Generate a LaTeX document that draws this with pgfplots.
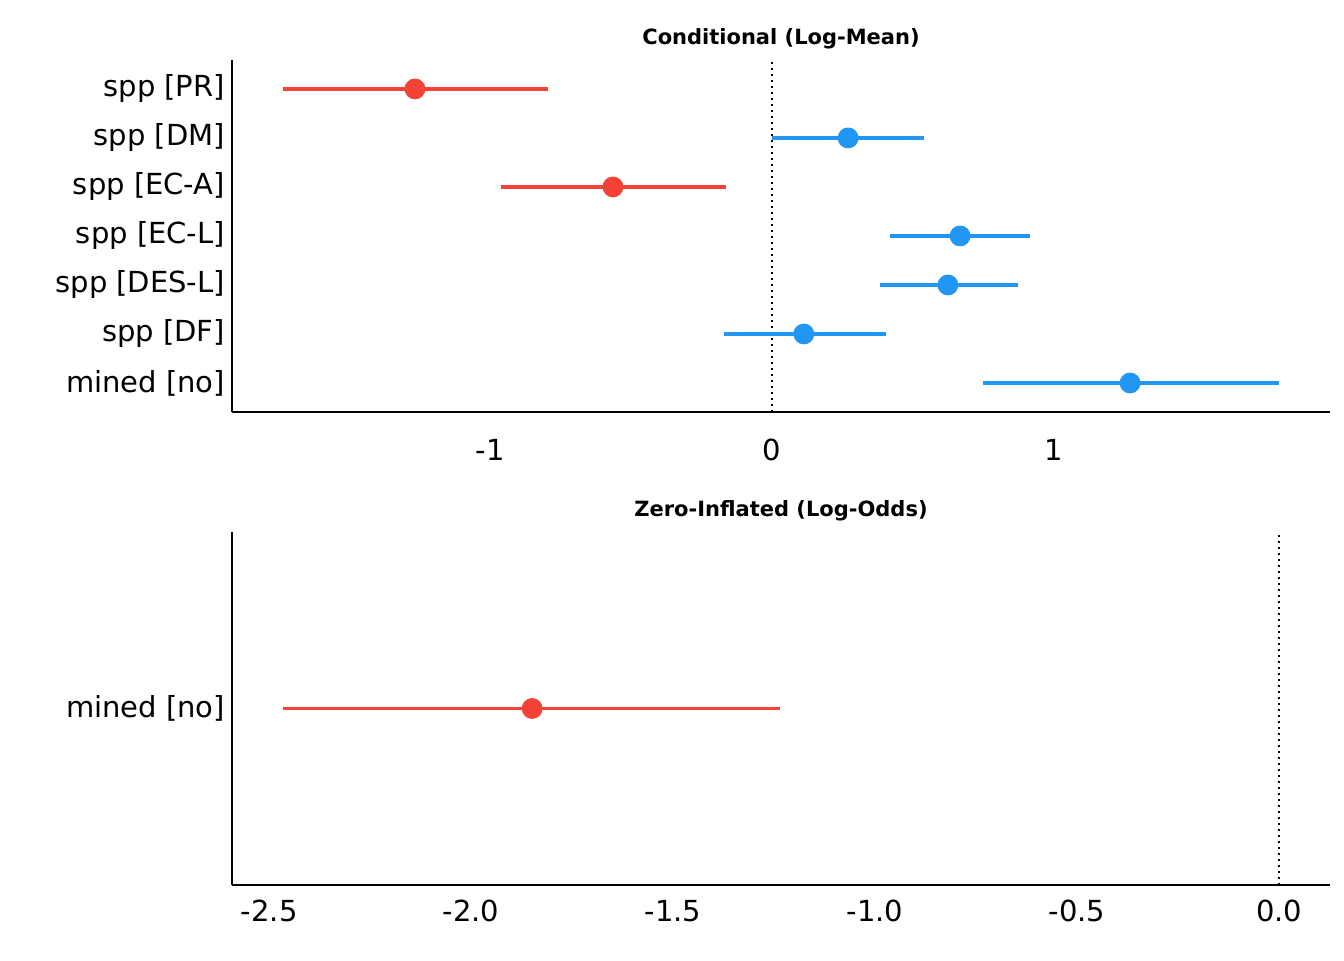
\documentclass[border=0pt]{standalone}
\usepackage{pgfplots}
\pgfplotsset{compat=1.18}
\usepackage{fontspec}
\setmainfont{DejaVu Sans}
\definecolor{cred}{HTML}{F44336}
\definecolor{cblue}{HTML}{2196F3}
\pgfplotsset{
  myax/.style={scale only axis, width=549pt, axis x line*=bottom, axis y line*=left,
    axis line style={line width=1pt}, major tick length=0pt,
    tick label style={font=\fontsize{14.5}{16}\selectfont},
    /pgf/number format/assume math mode=true,
    title style={font=\bfseries\fontsize{10.5}{12}\selectfont, yshift=-4pt},
    anchor=south west, clip=false},
  ci/.style={line width=1.6pt, mark=none},
  pt/.style={only marks, mark=*, mark size=5pt},
}
\begin{document}
\begin{tikzpicture}[x=1pt,y=1pt]
\useasboundingbox (0,0) rectangle (672,480);
\begin{axis}[myax, at={(116pt,274pt)}, height=176pt,
  xmin=-1.915, xmax=1.979, ymin=0.408, ymax=7.59,
  xtick={-1,0,1}, xticklabels={-1,0,1},
  ytick={1,...,7}, yticklabels={mined [no],spp [DF],spp [DES-L],spp [EC-L],spp [EC-A],spp [DM],spp [PR]},
  title={Conditional (Log-Mean)}, xticklabel style={yshift=-10pt}]
\addplot[black, dotted, line width=1pt] coordinates {(0,0.408) (0,7.59)};
\addplot[ci,cred] coordinates {(-1.734,7) (-0.794,7)};
\addplot[ci,cblue] coordinates {(0,6) (0.539,6)};
\addplot[ci,cred] coordinates {(-0.961,5) (-0.163,5)};
\addplot[ci,cblue] coordinates {(0.418,4) (0.915,4)};
\addplot[ci,cblue] coordinates {(0.383,3) (0.872,3)};
\addplot[ci,cblue] coordinates {(-0.170,2) (0.404,2)};
\addplot[ci,cblue] coordinates {(0.748,1) (1.798,1)};
\addplot[pt,cred] coordinates {(-1.266,7) (-0.564,5)};
\addplot[pt,cblue] coordinates {(0.270,6) (0.667,4) (0.624,3) (0.113,2) (1.270,1)};
\end{axis}
\begin{axis}[myax, at={(116pt,37.5pt)}, height=176.5pt,
  xmin=-2.592, xmax=0.126, ymin=0, ymax=2,
  xtick={-2.5,-2,-1.5,-1,-0.5,0},
  xticklabels={-2.5,-2.0,-1.5,-1.0,-0.5,0.0},
  ytick={1}, yticklabels={mined [no]},
  title={Zero-Inflated (Log-Odds)}, xticklabel style={yshift=-4pt}]
\addplot[black, dotted, line width=1pt] coordinates {(0,0) (0,2)};
\addplot[ci,cred] coordinates {(-2.465,1) (-1.235,1)};
\addplot[pt,cred] coordinates {(-1.849,1)};
\end{axis}
\end{tikzpicture}
\end{document}
